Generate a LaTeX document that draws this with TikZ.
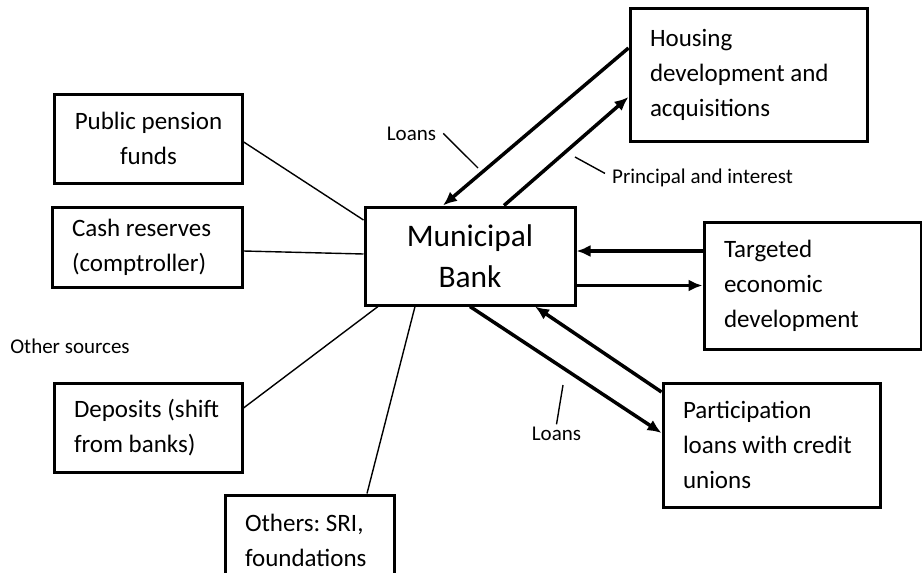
\documentclass[tikz,border=0pt]{standalone}
\usepackage{fontspec}
\setmainfont{Carlito}
\usepackage{tikz}
\usetikzlibrary{arrows.meta}

\begin{document}
\begin{tikzpicture}[x=1pt, y=-1pt,
    box/.style={draw, line width=3pt, inner sep=0pt, inner xsep=20pt, align=flush left, font=\frenchspacing\fontsize{25}{35}\selectfont},
    flow/.style={-{Latex[length=14pt,width=12pt]}, line width=3.5pt},
    link/.style={line width=1.4pt},
    lbl/.style={anchor=base, inner sep=0pt, font=\fontsize{21}{25}\selectfont}]
            \useasboundingbox (0,0) rectangle (922,573);
            \clip (0,0) rectangle (922,573);
            % Sources
            \node[box, align=center, minimum width=187pt, minimum height=89pt] (pens) at (148.5,138.5) {Public pension\\funds};
            \node[box, text width=150pt, minimum height=80pt] (cash) at (147,247) {Cash reserves\\(comptroller)};
            \node[box, text width=148pt, minimum height=89pt] (depo) at (148,427.5) {Deposits (shift\\from banks)};
            \node[box, text width=129pt, minimum height=90pt] (othr) at (309.5,540) {Others: SRI,\\foundations};
            \node[lbl] (other) at (70,353) {Other sources};

            % Bank
            \node[box, align=center, minimum width=210pt, minimum height=98pt, font=\fontsize{31.4}{41}\selectfont] (bank) at (470,256) {Municipal\\Bank};

            % Uses
            \node[box, text width=197pt, minimum height=133pt] (hous) at (748.5,74.5) {Housing\\development and\\acquisitions};
            \node[box, text width=177pt, minimum height=127pt] (targ) at (812.5,285.5) {Targeted\\economic\\development};
            \node[box, text width=177pt, minimum height=124pt] (part) at (771.5,445) {Participation\\loans with credit\\unions};

            % Lines from the sources
            \draw[link] ([yshift=-3.5pt]pens.east) -- ([yshift=36pt]bank.west);
            \draw[link] ([yshift=-4pt]cash.east) -- ([yshift=2pt]bank.west);
            \draw[link] ([yshift=19.5pt]depo.east) -- ([xshift=-92pt]bank.south);
            \draw[link] ([xshift=57.5pt]othr.north) -- ([xshift=-55pt]bank.south);

            % Housing arrows
            \draw[flow] ([yshift=26.5pt]hous.west) -- ([xshift=-27pt]bank.north);
            \draw[flow] ([xshift=34pt]bank.north) -- ([yshift=-22.5pt]hous.west);
            % Targeted arrows
            \draw[flow] ([yshift=34.5pt]targ.west) -- ([yshift=5pt]bank.east);
            \draw[flow] ([yshift=-29.5pt]bank.east) -- (targ.west);
            % Participation arrows
            \draw[flow] (bank.south) -- ([yshift=12pt]part.west);
            \draw[flow] ([yshift=53pt]part.west) -- ([xshift=65pt]bank.south);

            % Labels
            \node[lbl] (lnHous) at (411.5,140) {Loans};
            \node[lbl] (lnPi) at (702.5,183) {Principal and interest};
            \node[lbl] (lnPart) at (556.5,440) {Loans};
            \coordinate (tipHous) at (478,168);
            \coordinate (tipPi) at (575,157);
            \coordinate (tipPart) at (563,385);
            \draw[link] ([xshift=7pt]lnHous.east) -- (tipHous);
            \draw[link] (tipPi) -- ([xshift=-7pt, yshift=4pt]lnPi.west);
            \draw[link] (tipPart) -- ([yshift=2pt]lnPart.north);
        \end{tikzpicture}
\end{document}
